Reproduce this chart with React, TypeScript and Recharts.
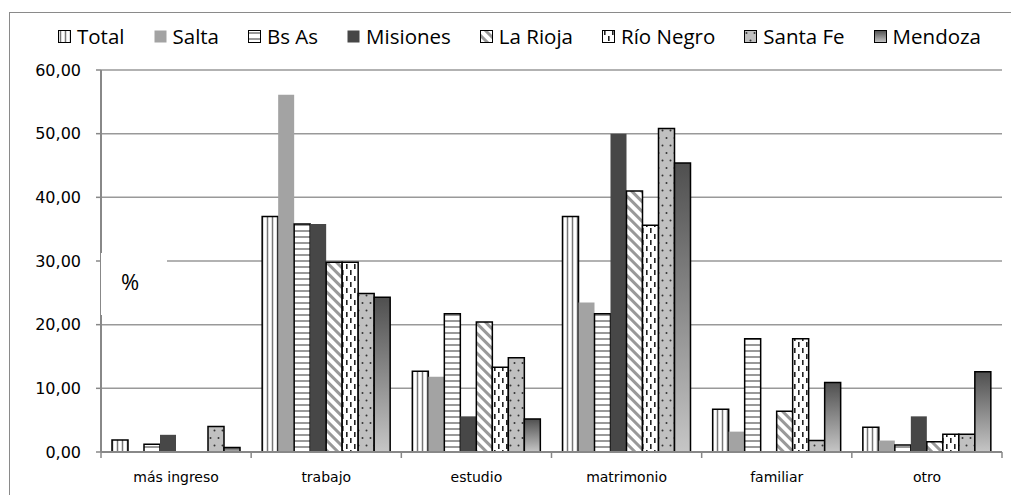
import React from "react"
import { BarChart, Bar, XAxis, YAxis, CartesianGrid } from "recharts"

const categories = ["más ingreso", "trabajo", "estudio", "matrimonio", "familiar", "otro"]
const seriesNames = ["Total", "Salta", "Bs As", "Misiones", "La Rioja", "Río Negro", "Santa Fe", "Mendoza"]

const total = [1.9, 37.0, 12.7, 37.0, 6.7, 3.9]
const salta = [0, 56.1, 11.8, 23.5, 3.2, 1.8]
const bsAs = [1.2, 35.8, 21.7, 21.7, 17.8, 1.1]
const misiones = [2.7, 35.8, 5.6, 50.0, 0, 5.6]
const laRioja = [0, 29.8, 20.4, 41.0, 6.4, 1.6]
const rioNegro = [0, 29.8, 13.3, 35.6, 17.8, 2.8]
const santaFe = [4.0, 24.9, 14.8, 50.8, 1.8, 2.8]
const mendoza = [0.7, 24.3, 5.2, 45.4, 10.9, 12.6]

const yTicks = [0, 10, 20, 30, 40, 50, 60]

const seriesValues = [total, salta, bsAs, misiones, laRioja, rioNegro, santaFe, mendoza]

const data = categories.map((c, i) => {
    const row: { [k: string]: string | number } = { name: c }
    seriesNames.forEach((s, j) => {
        row[s] = seriesValues[j][i]
    })
    return row
})

const AXIS_FONT = "'DejaVu Sans', Verdana, sans-serif"
const LEGEND_FONT = "'Open Sans', sans-serif"

const look: { [k: string]: { fill: string; stroke: string } } = {
    Total: { fill: "url(#pTotal)", stroke: "#000" },
    Salta: { fill: "#a3a3a3", stroke: "none" },
    "Bs As": { fill: "url(#pBsAs)", stroke: "#000" },
    Misiones: { fill: "#474747", stroke: "none" },
    "La Rioja": { fill: "url(#pRioja)", stroke: "#000" },
    "Río Negro": { fill: "url(#pRioNegro)", stroke: "#000" },
    "Santa Fe": { fill: "url(#pSantaFe)", stroke: "#000" },
    Mendoza: { fill: "url(#gMendoza)", stroke: "#000" },
}

function Patterns() {
    return (
        <svg width={0} height={0} style={{ position: "absolute" }}>
            <defs>
                <pattern id="pTotal" patternUnits="userSpaceOnUse" width={5} height={5}>
                    <rect width={5} height={5} fill="#fff" />
                    <line x1={2.5} y1={0} x2={2.5} y2={5} stroke="#777" strokeWidth={1.5} />
                </pattern>
                <pattern id="pBsAs" patternUnits="userSpaceOnUse" width={6} height={6}>
                    <rect width={6} height={6} fill="#fff" />
                    <line x1={0} y1={3} x2={6} y2={3} stroke="#999" strokeWidth={2} />
                </pattern>
                <pattern id="pRioja" patternUnits="userSpaceOnUse" width={7} height={7} patternTransform="rotate(-45)">
                    <rect width={7} height={7} fill="#fff" />
                    <line x1={3.5} y1={0} x2={3.5} y2={7} stroke="#999" strokeWidth={3} />
                </pattern>
                <pattern id="pRioNegro" patternUnits="userSpaceOnUse" width={8} height={12}>
                    <rect width={8} height={12} fill="#fff" />
                    <rect x={2} y={0} width={1.6} height={5} fill="#222" />
                    <rect x={6} y={6} width={1.6} height={5} fill="#222" />
                </pattern>
                <pattern id="pSantaFe" patternUnits="userSpaceOnUse" width={8} height={15}>
                    <rect width={8} height={15} fill="#c0c0c0" />
                    <circle cx={2.5} cy={3} r={1} fill="#333" />
                    <circle cx={6.5} cy={10.5} r={1} fill="#333" />
                </pattern>
                <linearGradient id="gMendoza" x1={0} y1={0} x2={0} y2={1}>
                    <stop offset="0%" stopColor="#4f4f4f" />
                    <stop offset="100%" stopColor="#c6c6c6" />
                </linearGradient>
            </defs>
        </svg>
    )
}

function LegendRow() {
    return (
        <div
            style={{
                position: "absolute",
                left: 58,
                top: 24,
                height: 24,
                display: "flex",
                alignItems: "center",
                fontFamily: LEGEND_FONT,
                fontSize: 20.5,
                lineHeight: "24px",
                color: "#000",
                whiteSpace: "nowrap",
            }}
        >
            {seriesNames.map((s) => (
                <div key={s} style={{ display: "flex", alignItems: "center", marginRight: 29 }}>
                    <svg width={13} height={13} style={{ marginRight: 6 }}>
                        <rect
                            x={0.5}
                            y={0.5}
                            width={12}
                            height={12}
                            fill={look[s].fill}
                            stroke={look[s].stroke === "none" ? "none" : "#000"}
                            strokeWidth={1}
                        />
                    </svg>
                    <span>{s}</span>
                </div>
            ))}
        </div>
    )
}

function CategoryTick(props: any) {
    const { x, y, payload, index, width } = props
    const half = width / categories.length / 2
    return (
        <g>
            <line x1={x - half} y1={y - 6} x2={x - half} y2={y} stroke="#888" strokeWidth={1.5} />
            {index === categories.length - 1 && (
                <line x1={x + half} y1={y - 6} x2={x + half} y2={y} stroke="#888" strokeWidth={1.5} />
            )}
            <text x={x} y={y + 24} textAnchor="middle" fontFamily={AXIS_FONT} fontSize={14} fill="#000">
                {payload.value}
            </text>
        </g>
    )
}

export default function App() {
    return (
        <div style={{ position: "absolute", left: 0, top: 0, width: 1011, height: 495, background: "#fff", overflow: "hidden" }}>
            <Patterns />
            <div
                style={{
                    position: "absolute",
                    left: 9,
                    top: 12,
                    width: 1100,
                    height: 600,
                    borderLeft: "1.5px solid #8a8a8a",
                    borderTop: "1.5px solid #8a8a8a",
                }}
            />
            <div style={{ position: "absolute", left: 0, top: 0 }}>
                <BarChart
                    width={1011}
                    height={495}
                    data={data}
                    margin={{ top: 70, right: 9, left: 41, bottom: 13 }}
                    barCategoryGap={11}
                    barGap={0}
                >
                    <CartesianGrid vertical={false} stroke="#999" strokeWidth={1.5} />
                    <XAxis
                        dataKey="name"
                        height={30}
                        axisLine={{ stroke: "#888", strokeWidth: 2 }}
                        tickLine={{ stroke: "none" }}
                        tickSize={6}
                        tickMargin={0}
                        interval={0}
                        tick={<CategoryTick />}
                    />
                    <YAxis
                        width={60}
                        domain={[0, 60]}
                        ticks={yTicks}
                        interval={0}
                        axisLine={{ stroke: "#888", strokeWidth: 2 }}
                        tickLine={{ stroke: "#888", strokeWidth: 1.5 }}
                        tickSize={5}
                        tickMargin={15}
                        tick={{ fontFamily: AXIS_FONT, fontSize: 16, fill: "#000" }}
                        tickFormatter={(v: number) => v.toFixed(2).replace(".", ",")}
                    />
                    {seriesNames.map((s) => (
                        <Bar
                            key={s}
                            dataKey={s}
                            fill={look[s].fill}
                            stroke={look[s].stroke}
                            strokeWidth={1.5}
                            isAnimationActive={false}
                        />
                    ))}
                </BarChart>
            </div>
            <div
                style={{
                    position: "absolute",
                    left: 101,
                    top: 253,
                    width: 66,
                    height: 62,
                    background: "#fff",
                    display: "flex",
                    alignItems: "center",
                    justifyContent: "center",
                    fontFamily: LEGEND_FONT,
                    fontSize: 22,
                    paddingRight: 8,
                    paddingBottom: 6,
                    boxSizing: "border-box",
                }}
            >
                %
            </div>
            <LegendRow />
        </div>
    )
}
